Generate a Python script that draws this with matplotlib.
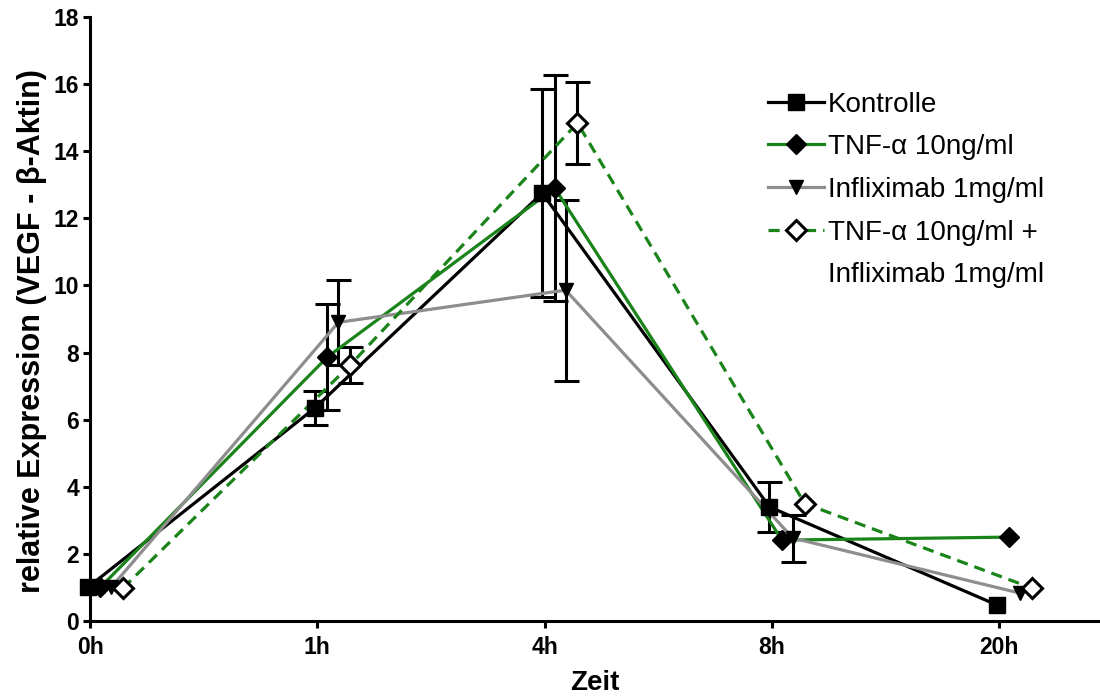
import numpy as np
import matplotlib
matplotlib.use("Agg")
import matplotlib.pyplot as plt
from matplotlib.lines import Line2D

plt.rcParams['font.family'] = ['Liberation Sans', 'DejaVu Sans']

# data
times = ['0h', '1h', '4h', '8h', '20h']
kontrolle = [1.0, 6.35, 12.75, 3.4, 0.48]
kontrolle_err = [0.0, 0.5, 3.1, 0.74, 0.0]
tnf = [1.0, 7.87, 12.9, 2.41, 2.5]
tnf_err = [0.0, 1.58, 3.37, 0.0, 0.0]
inflix = [1.0, 8.9, 9.86, 2.47, 0.83]
inflix_err = [0.0, 1.26, 2.7, 0.7, 0.0]
combo = [0.98, 7.63, 14.84, 3.5, 0.98]
combo_err = [0.0, 0.55, 1.23, 0.0, 0.0]

labels = ['Kontrolle', 'TNF-α 10ng/ml', 'Infliximab 1mg/ml', 'TNF-α 10ng/ml +']
green = '#1a841a'
gray = '#8e8e8e'

series = [
    (kontrolle, kontrolle_err, 'black', '-', 's', 'black', -0.01),
    (tnf, tnf_err, green, '-', 'D', 'black', 0.045),
    (inflix, inflix_err, gray, '-', 'v', 'black', 0.093),
    (combo, combo_err, green, (0, (3.5, 2.2)), 'D', 'white', 0.145),
]

fig = plt.figure(figsize=[11, 6.98], dpi=100)
ax = fig.add_axes([90/1100, 1-621/698, 1009/1100, (621-17)/698])

x = np.arange(len(times))
handles = []
for (vals, err, col, ls, mk, mfc, off), lab in zip(series, labels):
    xs = x + off
    vals = np.array(vals)
    err = np.array(err)
    has = err > 0
    ax.errorbar(xs[has], vals[has], yerr=err[has], fmt='none', ecolor='black',
                elinewidth=2.2, capsize=9, capthick=2.2, zorder=2, clip_on=False)
    ax.plot(xs, vals, color=col, linestyle=ls, linewidth=2.3, zorder=3, clip_on=False)
    ms = 11 if mk == 's' else 10
    mew = 2.2 if mfc == 'white' else 1
    ax.plot(xs, vals, linestyle='none', marker=mk, markersize=ms, markerfacecolor=mfc,
            markeredgecolor='black', markeredgewidth=mew, zorder=4, clip_on=False)
    handles.append(Line2D([], [], color=col, linestyle=ls, linewidth=2.3, marker=mk,
                          markersize=ms, markerfacecolor=mfc, markeredgecolor='black',
                          markeredgewidth=mew, label=lab))
# second line of the last legend entry
handles.append(Line2D([], [], color='none', label='Infliximab 1mg/ml'))

ax.set_xlim(0, 4.44)
ax.set_ylim(0, 18)
ax.set_xticks(x)
ax.set_xticklabels(times)
ax.set_yticks(np.arange(0, 19, 2))
for s in ['top', 'right']:
    ax.spines[s].set_visible(False)
for s in ['left', 'bottom']:
    ax.spines[s].set_linewidth(2.2)
ax.tick_params(width=2.2, length=5, labelsize=16.5, pad=3)
ax.tick_params(axis='x', pad=6)
for t in ax.get_xticklabels() + ax.get_yticklabels():
    t.set_fontweight('bold')

ax.set_xlabel('Zeit', fontsize=20, fontweight='bold', labelpad=8)
ax.set_ylabel('relative Expression (VEGF - β-Aktin)', fontsize=22, fontweight='bold')
ax.yaxis.set_label_coords(-0.043, 0.48)

ax.legend(handles=handles, loc='upper left', bbox_to_anchor=(0.661, 0.895), frameon=False,
          fontsize=20, handlelength=2.0, handletextpad=0.15, labelspacing=0.6,
          borderaxespad=0)

fig.savefig('out.png', dpi=100)
